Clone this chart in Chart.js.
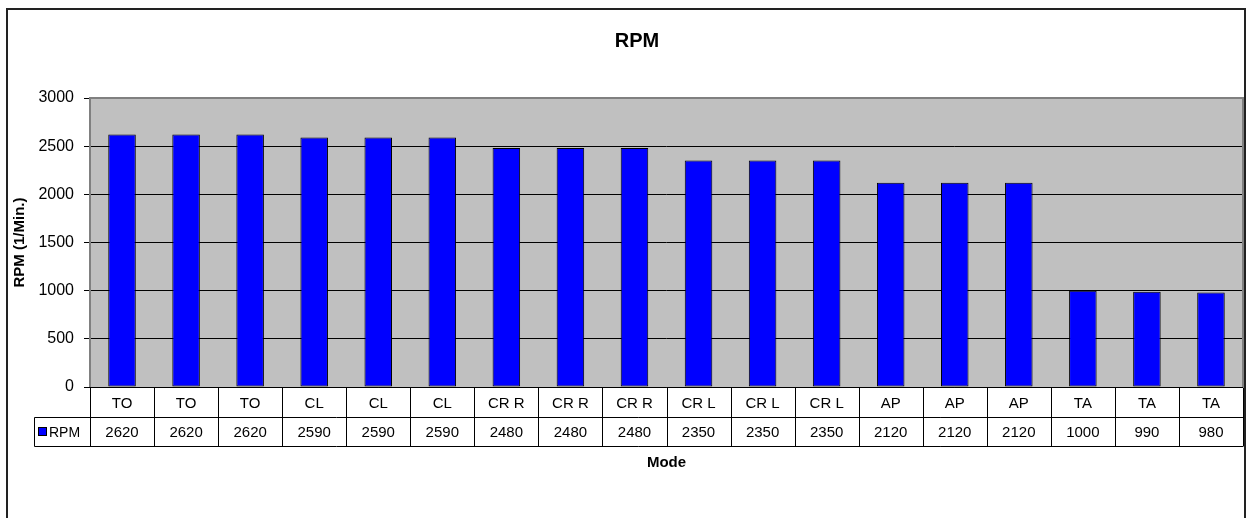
<!DOCTYPE html>
<html>
<head>
<meta charset="utf-8">
<script src="https://cdn.jsdelivr.net/npm/chart.js@4.4.1/dist/chart.umd.min.js"></script>
<style>
  body { margin: 0; background: #fff; }
  #wrap { width: 1250px; height: 518px; }
</style>
</head>
<body>
<div id="wrap"><canvas id="rpmChart"></canvas></div>
<script>
const modes = ["TO", "TO", "TO", "CL", "CL", "CL", "CR R", "CR R", "CR R",
               "CR L", "CR L", "CR L", "AP", "AP", "AP", "TA", "TA", "TA"];
const rpmValues = [2620, 2620, 2620, 2590, 2590, 2590, 2480, 2480, 2480,
                   2350, 2350, 2350, 2120, 2120, 2120, 1000, 990, 980];
const seriesName = "RPM";
const yMax = 3000;
const yStep = 500;

const FONT = "'Liberation Sans', Arial, sans-serif";

// background, outer frame, plot fill
const frame = {
    id: "frame",
    beforeDraw(chart) {
        const ctx = chart.ctx;
        const a = chart.chartArea;
        ctx.save();
        ctx.fillStyle = "#fff";
        ctx.fillRect(0, 0, chart.width, chart.height);
        ctx.strokeStyle = "#222";
        ctx.lineWidth = 2;
        ctx.strokeRect(7, 9, 1238, 530);
        ctx.fillStyle = "#c0c0c0";
        ctx.fillRect(a.left, a.top, a.right - a.left, a.bottom - a.top);
        ctx.restore();
    },
    afterDraw(chart) {
        const ctx = chart.ctx;
        const a = chart.chartArea;
        const x = chart.scales.x;
        const step = x.width / modes.length;
        ctx.save();

        // plot border
        ctx.strokeStyle = "#808080";
        ctx.lineWidth = 2;
        ctx.beginPath();
        ctx.moveTo(a.left, a.bottom);
        ctx.lineTo(a.left, a.top);
        ctx.lineTo(a.right, a.top);
        ctx.lineTo(a.right, a.bottom);
        ctx.stroke();

        // data table
        const top = Math.round(a.bottom) + 0.5;
        const mid = top + 30;
        const bot = top + 59;
        const keyLeft = 34.5;
        ctx.strokeStyle = "#000";
        ctx.lineWidth = 1;
        ctx.beginPath();
        ctx.moveTo(a.left, top); ctx.lineTo(a.right, top);
        ctx.moveTo(keyLeft, mid); ctx.lineTo(a.right, mid);
        ctx.moveTo(keyLeft, bot); ctx.lineTo(a.right, bot);
        ctx.moveTo(keyLeft, mid); ctx.lineTo(keyLeft, bot);
        for (let i = 0; i <= modes.length; i++) {
            const px = Math.round(x.getPixelForValue(i) - step / 2) + 0.5;
            ctx.moveTo(px, top); ctx.lineTo(px, bot);
        }
        ctx.stroke();

        ctx.fillStyle = "#000";
        ctx.font = "15px " + FONT;
        ctx.textAlign = "center";
        ctx.textBaseline = "middle";
        modes.forEach((m, i) => {
            const cx = x.getPixelForValue(i);
            ctx.fillText(m, cx, (top + mid) / 2 + 1);
            ctx.fillText(String(rpmValues[i]), cx, (mid + bot) / 2 + 1);
        });

        // legend key in the table
        ctx.fillStyle = "#0000ff";
        ctx.fillRect(38, 427, 8, 8);
        ctx.strokeRect(38.5, 427.5, 8, 8);
        ctx.fillStyle = "#000";
        ctx.textAlign = "left";
        ctx.font = "14px " + FONT;
        ctx.fillText(seriesName, 49, (mid + bot) / 2 + 1);

        // titles
        ctx.textAlign = "center";
        ctx.font = "bold 20px " + FONT;
        ctx.fillText("RPM", 637, 41);
        ctx.font = "bold 15px " + FONT;
        ctx.fillText("Mode", (a.left + a.right) / 2, 463);
        ctx.restore();
    }
};

const ctx = document.getElementById("rpmChart").getContext("2d");

new Chart(ctx, {
    type: "bar",
    data: {
        labels: modes,
        datasets: [{
            label: seriesName,
            data: rpmValues,
            backgroundColor: "#0000ff",
            borderColor: "#000",
            borderWidth: 1,
            borderSkipped: false,
            categoryPercentage: 1,
            barPercentage: 0.43
        }]
    },
    options: {
        responsive: true,
        maintainAspectRatio: false,
        animation: false,
        layout: {
            padding: { left: 0, right: 7, top: 98, bottom: 131 }
        },
        plugins: {
            legend: { display: false },
            tooltip: { enabled: false }
        },
        scales: {
            x: {
                display: false
            },
            y: {
                min: 0,
                max: yMax,
                afterFit: scale => { scale.width = 90; },
                ticks: {
                    stepSize: yStep,
                    padding: 10,
                    color: "#000",
                    font: { family: FONT, size: 16 },
                    callback: value => String(value)
                },
                grid: {
                    color: "#000",
                    tickColor: "#000",
                    tickLength: 6
                },
                border: { display: false },
                title: {
                    display: true,
                    text: "RPM (1/Min.)",
                    color: "#000",
                    font: { family: FONT, size: 15, weight: "bold" },
                    padding: { top: 11, bottom: 0 }
                }
            }
        }
    },
    plugins: [frame]
});
</script>
</body>
</html>
